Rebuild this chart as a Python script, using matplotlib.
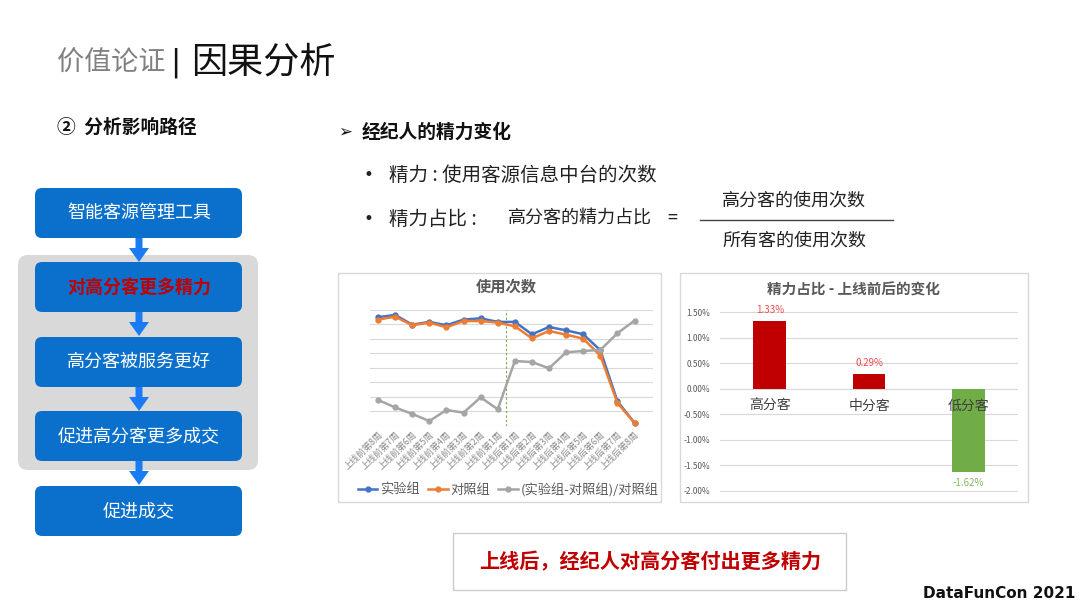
import numpy as np
import matplotlib
matplotlib.use('Agg')
import matplotlib.pyplot as plt
from matplotlib.patches import FancyBboxPatch, FancyArrow, Rectangle

plt.rcParams['font.family'] = ['Noto Sans CJK SC', 'DejaVu Sans']

# 使用次数 (折线图, 无刻度值, 按网格单位读取)
weeks = ['上线前第8周', '上线前第7周', '上线前第6周', '上线前第5周', '上线前第4周',
         '上线前第3周', '上线前第2周', '上线前第1周', '上线后第1周', '上线后第2周',
         '上线后第3周', '上线后第4周', '上线后第5周', '上线后第6周', '上线后第7周',
         '上线后第8周']
exp_grp = [7.48, 7.64, 6.97, 7.16, 6.93, 7.32, 7.41, 7.16, 7.16, 6.31, 6.81, 6.58, 6.31, 5.21, 1.70, 0.21]
ctl_grp = [7.32, 7.52, 6.93, 7.11, 6.79, 7.22, 7.22, 7.11, 6.86, 6.03, 6.54, 6.28, 6.01, 4.84, 1.58, 0.21]
diff_grp = [1.79, 1.28, 0.83, 0.34, 1.10, 0.92, 1.97, 1.15, 4.47, 4.40, 3.97, 5.07, 5.16, 5.23, 6.38, 7.25]

# 精力占比 - 上线前后的变化 (%)
segments = ['高分客', '中分客', '低分客']
share_change = [1.33, 0.29, -1.62]
share_ticks = [1.5, 1.0, 0.5, 0.0, -0.5, -1.0, -1.5, -2.0]

W, H = 1080, 608
fig = plt.figure(figsize=(W / 100, H / 100), dpi=100)


def box(left, top, right, bottom):
    return [left / W, 1 - bottom / H, (right - left) / W, (bottom - top) / H]


# slide background in pixel coordinates
bg = fig.add_axes([0, 0, 1, 1])
bg.set_xlim(0, W)
bg.set_ylim(H, 0)
bg.axis('off')

bg.text(57, 63, '价值论证', fontsize=19.5, color='#808080', va='center')
bg.text(170, 63, '|', fontsize=22, color='#111111', va='center', family=['DejaVu Sans'])
bg.text(191, 63, '因果分析', fontsize=26, color='#111111', va='center')
bg.text(57, 127, '②  分析影响路径', fontsize=13.5, fontweight='bold', color='#111111', va='center')

# flow chart
bg.add_patch(FancyBboxPatch((18, 255), 240, 215, boxstyle='round,pad=0,rounding_size=10',
                            fc='#d9d9d9', ec='none'))
flow = [('智能客源管理工具', 188), ('对高分客更多精力', 262), ('高分客被服务更好', 337),
        ('促进高分客更多成交', 411), ('促进成交', 486)]
for i, (label, top) in enumerate(flow):
    bg.add_patch(FancyBboxPatch((35, top), 207, 50, boxstyle='round,pad=0,rounding_size=7',
                                fc='#0a70cc', ec='none'))
    if i == 1:
        bg.text(139, top + 25, label, fontsize=13, color='#c00000', fontweight='bold',
                ha='center', va='center')
    else:
        bg.text(139, top + 25, label, fontsize=13, color='white', ha='center', va='center')
    if i < len(flow) - 1:
        bg.add_patch(FancyArrow(139, top + 50, 0, 24, width=7, head_width=20, head_length=14,
                                length_includes_head=True, color='#1a7cf5', lw=0))

# right text block
bg.text(338, 132, '➢', fontsize=12, color='#111111', va='center', family=['DejaVu Sans'])
bg.text(362, 132, '经纪人的精力变化', fontsize=13.5, fontweight='bold', color='#111111', va='center')
bg.text(368, 175, '•', fontsize=12, color='#222222', va='center', ha='center', family=['DejaVu Sans'])
bg.text(389, 175, '精力 : 使用客源信息中台的次数', fontsize=14, color='#222222', va='center')
bg.text(368, 219, '•', fontsize=12, color='#222222', va='center', ha='center', family=['DejaVu Sans'])
bg.text(389, 219, '精力占比 :', fontsize=14, color='#222222', va='center')
bg.text(508, 219, '高分客的精力占比', fontsize=13, color='#222222', va='center')
bg.text(672, 219, '=', fontsize=13, color='#222222', va='center', ha='center')
bg.plot([700, 893], [220, 220], color='#444444', lw=1)
bg.text(794, 200, '高分客的使用次数', fontsize=13, color='#222222', va='center', ha='center')
bg.text(794, 240, '所有客的使用次数', fontsize=13, color='#222222', va='center', ha='center')

# chart frames
bg.add_patch(Rectangle((338, 273), 323, 229, fc='white', ec='#d9d9d9', lw=1))
bg.add_patch(Rectangle((680, 273), 348, 229, fc='white', ec='#d9d9d9', lw=1))

# conclusion box
bg.add_patch(Rectangle((453, 533), 393, 57, fc='white', ec='#cccccc', lw=1))
bg.text(650, 562, '上线后，经纪人对高分客付出更多精力', fontsize=14.5, fontweight='bold',
        color='#c00000', ha='center', va='center')
bg.text(1075, 593, 'DataFunCon 2021', fontsize=11, fontweight='bold', color='#111111',
        ha='right', va='center', family=['DejaVu Sans'])

# line chart
ax1 = fig.add_axes(box(369.5, 309.7, 653, 426))
x = np.arange(len(weeks))
ax1.plot(x, exp_grp, color='#4472c4', lw=1.8, marker='o', ms=3.5, label='实验组', zorder=3)
ax1.plot(x, ctl_grp, color='#ed7d31', lw=1.8, marker='o', ms=3.5, label='对照组', zorder=3)
ax1.plot(x, diff_grp, color='#a5a5a5', lw=1.8, marker='o', ms=3.5,
         label='(实验组-对照组)/对照组', zorder=3)
ax1.axvline(7.5, color='#70ad47', lw=0.8, ls=(0, (2, 2)), zorder=2)
ax1.set_xlim(-0.5, 16.08)
ax1.set_ylim(0, 8)
ax1.set_yticks(range(9))
ax1.set_yticklabels([])
ax1.grid(axis='y', color='#d9d9d9', lw=0.8)
ax1.set_axisbelow(True)
ax1.set_xticks(x)
ax1.set_xticklabels(weeks, rotation=45, ha='right', rotation_mode='anchor',
                    fontsize=6.5, color='#8c8c8c')
ax1.tick_params(length=0, pad=3)
for s in ax1.spines.values():
    s.set_visible(False)
ax1.patch.set_alpha(0)
fig.text(506 / W, 1 - 287 / H, '使用次数', fontsize=11, fontweight='bold', color='#595959',
         ha='center', va='center')
fig.legend(*ax1.get_legend_handles_labels(), loc='center', bbox_to_anchor=(508 / W, 1 - 490 / H),
           ncol=3, frameon=False, fontsize=9.5, handlelength=1.5, handletextpad=0.2,
           columnspacing=0.6, labelcolor='#595959', borderpad=0)

# bar chart
ax2 = fig.add_axes(box(720, 311.3, 1018, 492))
pos = np.arange(len(segments))
colors = ['#c00000' if v > 0 else '#70ad47' for v in share_change]
ax2.bar(pos, share_change, width=0.33, color=colors, zorder=3)
ax2.set_xlim(-0.5, 2.5)
ax2.set_ylim(-2.02, 1.52)
ax2.set_yticks(share_ticks)
ax2.set_yticklabels(['{:.2f}%'.format(v) for v in share_ticks], fontsize=6, color='#595959')
ax2.set_xticks([])
ax2.grid(axis='y', color='#d9d9d9', lw=0.8)
ax2.set_axisbelow(True)
ax2.tick_params(length=0, pad=7)
for s in ax2.spines.values():
    s.set_visible(False)
for p, v in zip(pos, share_change):
    ax2.annotate('{:.2f}%'.format(v), (p, v), xytext=(0, 11 if v > 0 else -11),
                 textcoords='offset pixels', ha='center', va='center', fontsize=7,
                 color='#f04848' if v > 0 else '#86b95e')
    ax2.text(p, -0.34, segments[p], ha='center', va='center', fontsize=10, color='#404040')
fig.text(853 / W, 1 - 290 / H, '精力占比 - 上线前后的变化', fontsize=10.5, fontweight='bold',
         color='#595959', ha='center', va='center')

fig.savefig('out.png', dpi=100)
